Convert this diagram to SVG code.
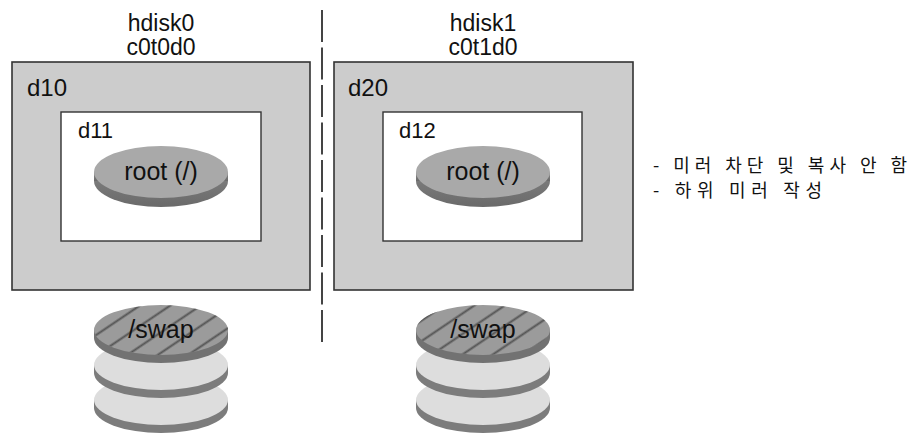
<svg xmlns="http://www.w3.org/2000/svg" width="916" height="439" viewBox="0 0 916 439">
  <style>
    .lbl { font-family: "Liberation Sans", Arial, "Noto Sans CJK KR", sans-serif; fill: #111; }
    .hd { font-size: 23px; text-anchor: middle; }
    .outer { fill: #cccccc; stroke: #333; stroke-width: 1.6; }
    .inner { fill: #ffffff; stroke: #333; stroke-width: 1.4; }
    .rootface { fill: #a9a9a9; }
    .rootrim { fill: url(#rimGrad); }
    .swapface { fill: #9b9b9b; }
    .swaprim { fill: #727272; }
    .diskface { fill: #dddddd; }
    .diskrim { fill: #7c7c7c; }
    .note { font-family: "Noto Sans CJK KR", "Liberation Sans", sans-serif; font-size: 18px; fill: #111; }
  </style>
  <defs>
    <linearGradient id="rimGrad" x1="0" y1="0" x2="0" y2="1">
      <stop offset="0" stop-color="#8a8a8a"/>
      <stop offset="1" stop-color="#6a6a6a"/>
    </linearGradient>
    <pattern id="hatch" patternUnits="userSpaceOnUse" width="40" height="17" patternTransform="rotate(-34)">
      <line x1="0" y1="8.5" x2="40" y2="8.5" stroke="#555" stroke-width="2"/>
    </pattern>
    <clipPath id="clipL"><ellipse cx="161" cy="330" rx="67" ry="25"/></clipPath>
    <clipPath id="clipR"><ellipse cx="483" cy="330" rx="67" ry="25"/></clipPath>
  </defs>

  <!-- divider -->
  <g id="connectors">
    <line x1="322" y1="10" x2="322" y2="342" stroke="#444" stroke-width="2" stroke-dasharray="32 5.5"/>
  </g>

  <!-- disk headers -->
  <g id="hdisk0">
    <text class="lbl hd" x="161" y="31">hdisk0</text>
    <text class="lbl hd" x="161" y="55">c0t0d0</text>
  </g>
  <g id="hdisk1">
    <text class="lbl hd" x="483" y="31">hdisk1</text>
    <text class="lbl hd" x="483" y="55">c0t1d0</text>
  </g>

  <!-- d10 -->
  <g id="d10">
    <rect class="outer" x="12" y="62" width="298" height="228"/>
    <text class="lbl" x="27" y="96" font-size="24">d10</text>
  </g>
  <g id="d11">
    <rect class="inner" x="61" y="112" width="200" height="129"/>
    <text class="lbl" x="78" y="138" font-size="22">d11</text>
  </g>
  <g id="root0">
    <ellipse class="rootrim" cx="161" cy="181" rx="67" ry="26"/>
    <rect class="rootrim" x="94" y="172" width="134" height="9"/>
    <ellipse class="rootface" cx="161" cy="172" rx="67" ry="26"/>
    <text class="lbl" x="161" y="180" font-size="25" text-anchor="middle">root (/)</text>
  </g>

  <!-- d20 -->
  <g id="d20">
    <rect class="outer" x="334" y="62" width="299" height="228"/>
    <text class="lbl" x="348" y="96" font-size="24">d20</text>
  </g>
  <g id="d12">
    <rect class="inner" x="383" y="112" width="199" height="129"/>
    <text class="lbl" x="399" y="138" font-size="22">d12</text>
  </g>
  <g id="root1">
    <ellipse class="rootrim" cx="483" cy="181" rx="67" ry="26"/>
    <rect class="rootrim" x="416" y="172" width="134" height="9"/>
    <ellipse class="rootface" cx="483" cy="172" rx="67" ry="26"/>
    <text class="lbl" x="483" y="180" font-size="25" text-anchor="middle">root (/)</text>
  </g>

  <!-- swap stacks -->
  <g id="swap0">
    <ellipse class="diskrim" cx="161" cy="408" rx="67" ry="25"/>
    <rect class="diskrim" x="94" y="400" width="134" height="8"/>
    <ellipse class="diskface" cx="161" cy="400" rx="67" ry="25"/>
    <ellipse class="diskrim" cx="161" cy="373" rx="67" ry="25"/>
    <rect class="diskrim" x="94" y="365" width="134" height="8"/>
    <ellipse class="diskface" cx="161" cy="365" rx="67" ry="25"/>
    <ellipse class="swaprim" cx="161" cy="338" rx="67" ry="25"/>
    <rect class="swaprim" x="94" y="330" width="134" height="8"/>
    <ellipse class="swapface" cx="161" cy="330" rx="67" ry="25"/>
    <rect x="90" y="300" width="142" height="60" fill="url(#hatch)" clip-path="url(#clipL)"/>
    <text class="lbl" x="161" y="338" font-size="25" text-anchor="middle">/swap</text>
  </g>
  <g id="swap1">
    <ellipse class="diskrim" cx="483" cy="408" rx="67" ry="25"/>
    <rect class="diskrim" x="416" y="400" width="134" height="8"/>
    <ellipse class="diskface" cx="483" cy="400" rx="67" ry="25"/>
    <ellipse class="diskrim" cx="483" cy="373" rx="67" ry="25"/>
    <rect class="diskrim" x="416" y="365" width="134" height="8"/>
    <ellipse class="diskface" cx="483" cy="365" rx="67" ry="25"/>
    <ellipse class="swaprim" cx="483" cy="338" rx="67" ry="25"/>
    <rect class="swaprim" x="416" y="330" width="134" height="8"/>
    <ellipse class="swapface" cx="483" cy="330" rx="67" ry="25"/>
    <rect x="412" y="300" width="142" height="60" fill="url(#hatch)" clip-path="url(#clipR)"/>
    <text class="lbl" x="483" y="338" font-size="25" text-anchor="middle">/swap</text>
  </g>

  <!-- note -->
  <g id="note">
    <text class="note" x="653" y="172" textLength="254" lengthAdjust="spacing">- 미러 차단 및 복사 안 함</text>
    <text class="note" x="653" y="197" textLength="169" lengthAdjust="spacing">- 하위 미러 작성</text>
  </g>
</svg>
